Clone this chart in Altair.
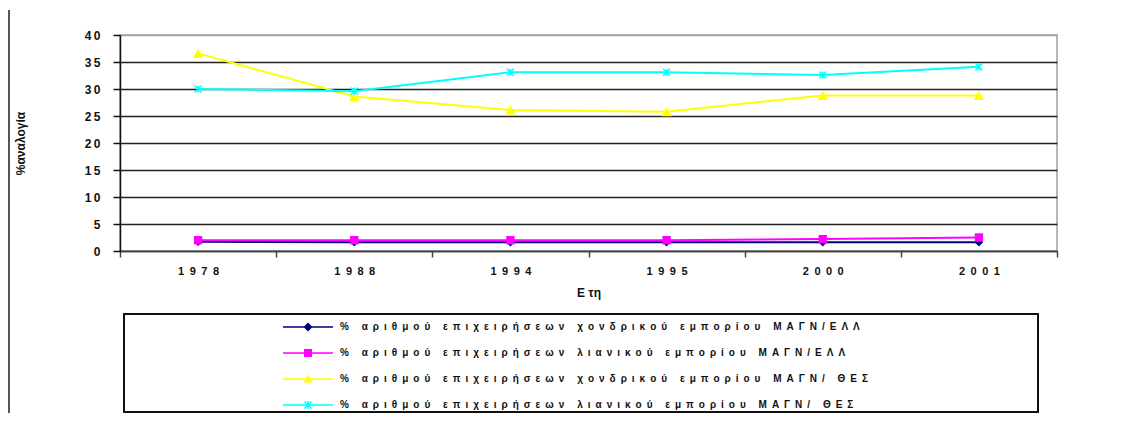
import altair as alt
import pandas as pd

# ---- data ----
years = ["1978", "1988", "1994", "1995", "2000", "2001"]
series = [
    "% αριθμού επιχειρήσεων χονδρικού εμπορίου ΜΑΓΝ/ΕΛΛ",
    "% αριθμού επιχειρήσεων λιανικού εμπορίου ΜΑΓΝ/ΕΛΛ",
    "% αριθμού επιχειρήσεων χονδρικού εμπορίου ΜΑΓΝ/ ΘΕΣ",
    "% αριθμού επιχειρήσεων λιανικού εμπορίου ΜΑΓΝ/ ΘΕΣ",
]
wholesale_ell = [1.7, 1.6, 1.6, 1.6, 1.6, 1.6]
retail_ell = [2.0, 2.0, 2.0, 2.0, 2.2, 2.5]
wholesale_thes = [36.6, 28.6, 26.1, 25.8, 28.8, 28.8]
retail_thes = [30.0, 29.6, 33.1, 33.1, 32.6, 34.1]
y_ticks = [0, 5, 10, 15, 20, 25, 30, 35, 40]

values = [wholesale_ell, retail_ell, wholesale_thes, retail_thes]
colors = ["#000080", "#FF00FF", "#FFFF00", "#00FFFF"]

rows = []
for s, vals in zip(series, values):
    for yr, v in zip(years, vals):
        rows.append({"year": yr, "series": s, "value": v})
df = pd.DataFrame(rows)

FONT = "Liberation Sans"
EN = "\u2002"
THIN = "\u2009"
spaced_en = "replace(datum.label, /(.)(?=.)/g, '$1" + EN + "')"
spaced_thin = "replace(datum.label, /(.)(?=.)/g, '$1" + THIN + "')"

x_enc = alt.X(
    "year:O", sort=years,
    scale=alt.Scale(type="band", paddingInner=0, paddingOuter=0),
    bandPosition=0.5,
    axis=alt.Axis(
        title="Ε τη", tickBand="extent", labelAngle=0, grid=False,
        labelFont=FONT, labelFontSize=11, labelFontWeight="bold", labelColor="#111",
        labelPadding=8, labelExpr=spaced_en,
        tickSize=6, tickColor="#444", tickWidth=1.5,
        domainColor="#444", domainWidth=1.5,
        titleFont=FONT, titleFontSize=12, titleFontWeight="bold", titleColor="#111",
        titleY=36, titleBaseline="top",
    ),
)
y_enc = alt.Y(
    "value:Q",
    scale=alt.Scale(domain=[0, 40], nice=False),
    axis=alt.Axis(
        values=y_ticks, title="%αναλογία", grid=True,
        gridColor={"condition": {"test": "datum.value === 40", "value": "#a0a0a0"}, "value": "#222"},
        gridWidth=1.5,
        labelFont=FONT, labelFontSize=12, labelFontWeight="bold", labelColor="#111",
        labelPadding=13, labelExpr=spaced_thin,
        tickSize=7, tickColor="#111", tickWidth=1.5,
        domainColor="#111", domainWidth=1.5,
        titleFont=FONT, titleFontSize=12, titleFontWeight="bold", titleColor="#111",
        titleX=-100, titleY=108, titleAngle=270, titleAlign="center", titleBaseline="middle",
    ),
)

base = alt.Chart(df)

marker_defs = [
    dict(shape="diamond", filled=True, size=70),
    dict(shape="square", filled=True, size=70),
    dict(shape="triangle-up", filled=True, size=110),
    dict(shape="M-1,-1L1,1M-1,1L1,-1M0,-1L0,1", filled=False, size=50, strokeWidth=1.5),
]

layers = []
for s, c, mk in zip(series, colors, marker_defs):
    sub = base.transform_filter(alt.datum.series == s)
    layers.append(sub.mark_line(strokeWidth=2, color=c).encode(x=x_enc, y=y_enc))
    layers.append(sub.mark_point(opacity=1, color=c, **mk).encode(x=x_enc, y=y_enc))

bar = "M-5,-0.15L5,-0.15L5,0.15L-5,0.15Z "
legend_paths = [
    bar + "M0,-0.9L0.9,0L0,0.9L-0.9,0Z",
    bar + "M-0.8,-0.8L0.8,-0.8L0.8,0.8L-0.8,0.8Z",
    bar + "M0,-0.9L0.9,0.7L-0.9,0.7Z",
    bar + "M-0.594,-0.806L0.806,0.594L0.594,0.806L-0.806,-0.594Z "
          "M0.594,-0.806L0.806,-0.594L-0.594,0.806L-0.806,0.594Z "
          "M-0.15,-0.8L0.15,-0.8L0.15,0.8L-0.15,0.8Z",
]

legend_props = dict(
    title=None, orient="none", legendX=183, legendY=287, padding=0,
    symbolSize=100, symbolStrokeWidth=0, symbolOpacity=1,
    labelFont=FONT, labelFontSize=10, labelFontWeight="bold", labelColor="#111",
    labelOffset=27, labelLimit=1000, rowPadding=16, labelExpr=spaced_en,
)

legend_layer = base.mark_point(filled=True, opacity=1, size=100).encode(
    x=x_enc, y=y_enc,
    color=alt.Color("series:N", scale=alt.Scale(domain=series, range=colors),
                    legend=alt.Legend(**legend_props)),
    shape=alt.Shape("series:N", scale=alt.Scale(domain=series, range=legend_paths),
                    legend=alt.Legend(**legend_props)),
).transform_filter("false")

one = pd.DataFrame({"k": [0]})
legend_box = alt.Chart(one).mark_rect(fill="white", stroke="#111", strokeWidth=2).encode(
    x=alt.value(4), x2=alt.value(918), y=alt.value(279), y2=alt.value(377)
)
page_edge = alt.Chart(one).mark_rule(color="#555", strokeWidth=2).encode(
    x=alt.value(-111), y=alt.value(-25), y2=alt.value(390)
)

chart = (
    alt.layer(legend_box, page_edge, *layers, legend_layer)
    .properties(
        width=937, height=216,
        padding={"left": 112, "top": 27, "right": 64, "bottom": 162},
        autosize=alt.AutoSizeParams(type="none"),
        background="white",
    )
    .configure_view(stroke="#a0a0a0", strokeWidth=1.5)
)

chart.save("out.html", embed_options={"renderer": "svg", "actions": False})
